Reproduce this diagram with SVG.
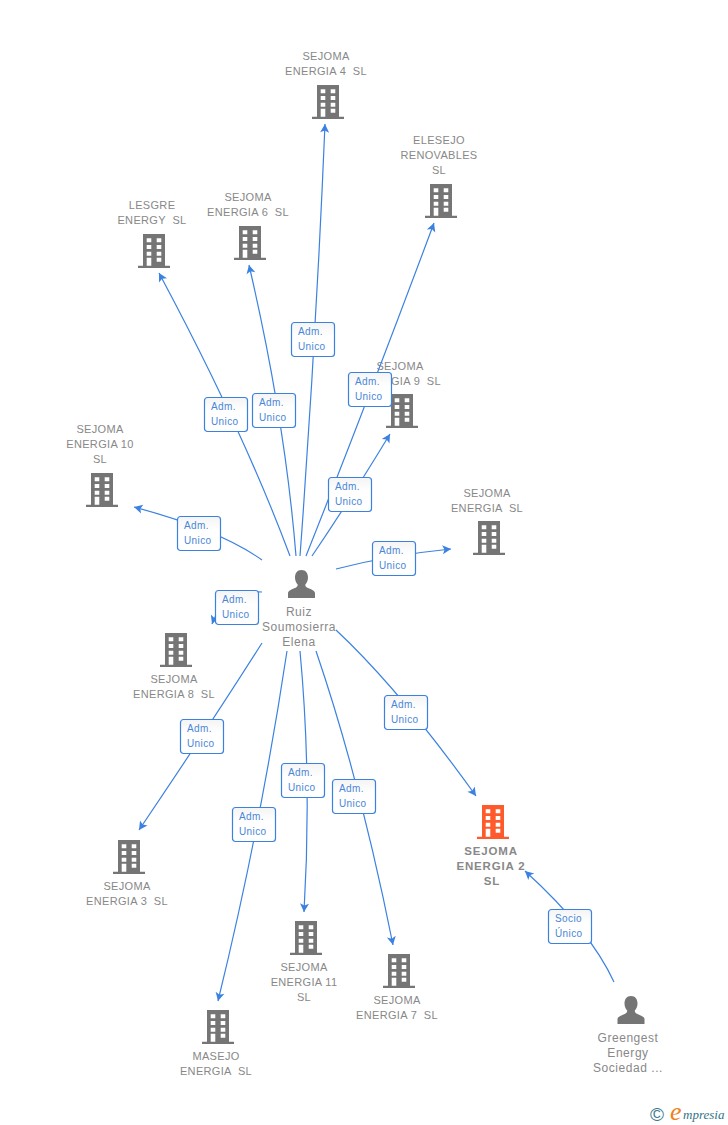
<svg xmlns="http://www.w3.org/2000/svg" width="728" height="1125" viewBox="0 0 728 1125">
<style>
.n{font:11px "Liberation Sans",Arial,sans-serif;fill:#888;text-anchor:middle;letter-spacing:.33px;white-space:pre}
.b{font-weight:bold;font-size:11.5px;letter-spacing:.85px}
.p{font-size:12px;letter-spacing:.55px}
.c{fill:none;stroke:#3b82e0;stroke-width:1.2;marker-end:url(#a)}
.l rect{fill:url(#g);stroke:#3b82e0;stroke-width:1.2}
.l text{font:10px "Liberation Sans",Arial,sans-serif;fill:#4a86d8;letter-spacing:.4px}
</style>
<defs>
<linearGradient id="g" x1="0" y1="0" x2="0" y2="1"><stop offset="0" stop-color="#f4f4f4"/><stop offset=".4" stop-color="#fff"/></linearGradient>
<marker id="a" markerUnits="userSpaceOnUse" markerWidth="12" markerHeight="12" refX="9.500" refY="5.500" orient="auto"><path d="M1,1 L9.500,5.500 L1,10 L3,5.500Z" fill="#3b82e0"/></marker>
<g id="bd">
<path fill-rule="evenodd" d="M-11,0H11V31.700H16V34H-16V31.700H-11ZM-7.300,4.300V8.300H-2.700V4.300ZM2.700,4.300V8.300H7.300V4.300ZM-7.300,11V15H-2.700V11ZM2.700,11V15H7.300V11ZM-7.300,17.700V21.700H-2.700V17.700ZM2.700,17.700V21.700H7.300V17.700ZM-7.300,23.700V31.700H-2.700V23.700ZM2.700,23.700V27.700H7.300V23.700Z"/>
</g>
<g id="pr"><path d="M0,0c4.500,0 6.500,3.500 6.500,7.500c0,3 -1.200,5.500 -2.700,7c0,1.500 .5,2.500 2,3.200c3.500,1.500 7.200,2.600 7.700,5.300v5h-27v-5c.5,-2.700 4.200,-3.800 7.700,-5.300c1.500,-.7 2,-1.700 2,-3.200c-1.500,-1.500 -2.700,-4 -2.700,-7c0,-4 2,-7.500 6.500,-7.500Z" fill="#757575"/></g>
</defs>
<rect width="728" height="1125" fill="#fff"/>
<g id="n4" fill="#757575"><use href="#bd" x="328" y="85"/><text class="n" x="326" y="60">SEJOMA</text><text class="n" x="326" y="75">ENERGIA 4  SL</text></g>
<g id="nElesejo" fill="#757575"><use href="#bd" x="441" y="184"/><text class="n" x="439" y="144">ELESEJO</text><text class="n" x="439" y="159">RENOVABLES</text><text class="n" x="439" y="174">SL</text></g>
<g id="nLesgre" fill="#757575"><use href="#bd" x="154" y="234"/><text class="n" x="152" y="209">LESGRE</text><text class="n" x="152" y="224">ENERGY  SL</text></g>
<g id="n6" fill="#757575"><use href="#bd" x="250" y="226"/><text class="n" x="248" y="201">SEJOMA</text><text class="n" x="248" y="216">ENERGIA 6  SL</text></g>
<g id="n9" fill="#757575"><use href="#bd" x="402" y="394"/><text class="n" x="400" y="370">SEJOMA</text><text class="n" x="400" y="385">ENERGIA 9  SL</text></g>
<g id="n10" fill="#757575"><use href="#bd" x="102" y="473"/><text class="n" x="100" y="433">SEJOMA</text><text class="n" x="100" y="448">ENERGIA 10</text><text class="n" x="100" y="463">SL</text></g>
<g id="n1" fill="#757575"><use href="#bd" x="489" y="521"/><text class="n" x="487" y="497">SEJOMA</text><text class="n" x="487" y="512">ENERGIA  SL</text></g>
<g id="n8" fill="#757575"><use href="#bd" x="176" y="633"/><text class="n" x="174" y="683">SEJOMA</text><text class="n" x="174" y="698">ENERGIA 8  SL</text></g>
<g id="n3" fill="#757575"><use href="#bd" x="129" y="840"/><text class="n" x="127" y="890">SEJOMA</text><text class="n" x="127" y="905">ENERGIA 3  SL</text></g>
<g id="n11" fill="#757575"><use href="#bd" x="306" y="921"/><text class="n" x="304" y="971">SEJOMA</text><text class="n" x="304" y="986">ENERGIA 11</text><text class="n" x="304" y="1001">SL</text></g>
<g id="n7" fill="#757575"><use href="#bd" x="399" y="954"/><text class="n" x="397" y="1004">SEJOMA</text><text class="n" x="397" y="1019">ENERGIA 7  SL</text></g>
<g id="nMasejo" fill="#757575"><use href="#bd" x="218" y="1010"/><text class="n" x="216" y="1060">MASEJO</text><text class="n" x="216" y="1075">ENERGIA  SL</text></g>
<g id="n2" fill="#ff5a2b"><use href="#bd" x="493" y="805"/><text class="n b" x="491" y="855">SEJOMA</text><text class="n b" x="491" y="870">ENERGIA 2</text><text class="n b" x="492" y="885">SL</text></g>
<g id="pRuiz"><use href="#pr" x="301.500" y="570"/><text class="n p" x="299" y="616">Ruiz</text><text class="n p" x="299" y="631">Soumosierra</text><text class="n p" x="299" y="646">Elena</text></g>
<g id="pGreengest"><use href="#pr" x="631" y="996"/><text class="n p" x="628" y="1042">Greengest</text><text class="n p" x="628" y="1057">Energy</text><text class="n p" x="628" y="1072">Sociedad ...</text></g>
<g id="connectors">
<path class="c" d="M300,556Q316,340 325,124"/>
<path class="c" d="M306,556Q368,400 434,223"/>
<path class="c" d="M290,556Q243,430 159,273"/>
<path class="c" d="M296,556Q285,420 249,265"/>
<path class="c" d="M312,556Q350,500 390,434"/>
<path class="c" d="M262,560Q220,530 134,507"/>
<path class="c" d="M336,569Q390,555 451,549"/>
<path class="c" d="M262,592Q225,590 212,624"/>
<path class="c" d="M262,643Q210,725 139,830"/>
<path class="c" d="M287,651Q260,830 218,1001"/>
<path class="c" d="M300,651Q312,780 304,912"/>
<path class="c" d="M316,651Q360,780 393,945"/>
<path class="c" d="M336,630Q400,690 476,796"/>
<path class="c" d="M614,982Q590,930 525,871"/>
<g class="l">
<g transform="translate(291,322)"><rect x=".5" y=".5" width="43" height="34" rx="3"/><text x="7" y="13">Adm.</text><text x="7" y="28">Unico</text></g>
<g transform="translate(348,372)"><rect x=".5" y=".5" width="43" height="34" rx="3"/><text x="7" y="13">Adm.</text><text x="7" y="28">Unico</text></g>
<g transform="translate(204,397)"><rect x=".5" y=".5" width="43" height="34" rx="3"/><text x="7" y="13">Adm.</text><text x="7" y="28">Unico</text></g>
<g transform="translate(252,393)"><rect x=".5" y=".5" width="43" height="34" rx="3"/><text x="7" y="13">Adm.</text><text x="7" y="28">Unico</text></g>
<g transform="translate(328,477)"><rect x=".5" y=".5" width="43" height="34" rx="3"/><text x="7" y="13">Adm.</text><text x="7" y="28">Unico</text></g>
<g transform="translate(177,516)"><rect x=".5" y=".5" width="43" height="34" rx="3"/><text x="7" y="13">Adm.</text><text x="7" y="28">Unico</text></g>
<g transform="translate(372,541)"><rect x=".5" y=".5" width="43" height="34" rx="3"/><text x="7" y="13">Adm.</text><text x="7" y="28">Unico</text></g>
<g transform="translate(215,590)"><rect x=".5" y=".5" width="43" height="34" rx="3"/><text x="7" y="13">Adm.</text><text x="7" y="28">Unico</text></g>
<g transform="translate(180,719)"><rect x=".5" y=".5" width="43" height="34" rx="3"/><text x="7" y="13">Adm.</text><text x="7" y="28">Unico</text></g>
<g transform="translate(281,763)"><rect x=".5" y=".5" width="43" height="34" rx="3"/><text x="7" y="13">Adm.</text><text x="7" y="28">Unico</text></g>
<g transform="translate(332,779)"><rect x=".5" y=".5" width="43" height="34" rx="3"/><text x="7" y="13">Adm.</text><text x="7" y="28">Unico</text></g>
<g transform="translate(232,807)"><rect x=".5" y=".5" width="43" height="34" rx="3"/><text x="7" y="13">Adm.</text><text x="7" y="28">Unico</text></g>
<g transform="translate(384,695)"><rect x=".5" y=".5" width="43" height="34" rx="3"/><text x="7" y="13">Adm.</text><text x="7" y="28">Unico</text></g>
<g transform="translate(548,909)"><rect x=".5" y=".5" width="43" height="34" rx="3"/><text x="7" y="13">Socio</text><text x="7" y="28">Único</text></g>
</g>
</g>
<g id="logo">
<text x="650" y="1121" font-family="'Liberation Sans',sans-serif" font-size="19" fill="#3d7a8c">©</text>
<text x="670" y="1120" font-family="'Liberation Serif',serif" font-style="italic" font-size="26" fill="#f08020">e</text>
<text x="683" y="1119" font-family="'Liberation Serif',serif" font-style="italic" font-size="13" fill="#2f7488">mpresia</text>
</g>
</svg>
